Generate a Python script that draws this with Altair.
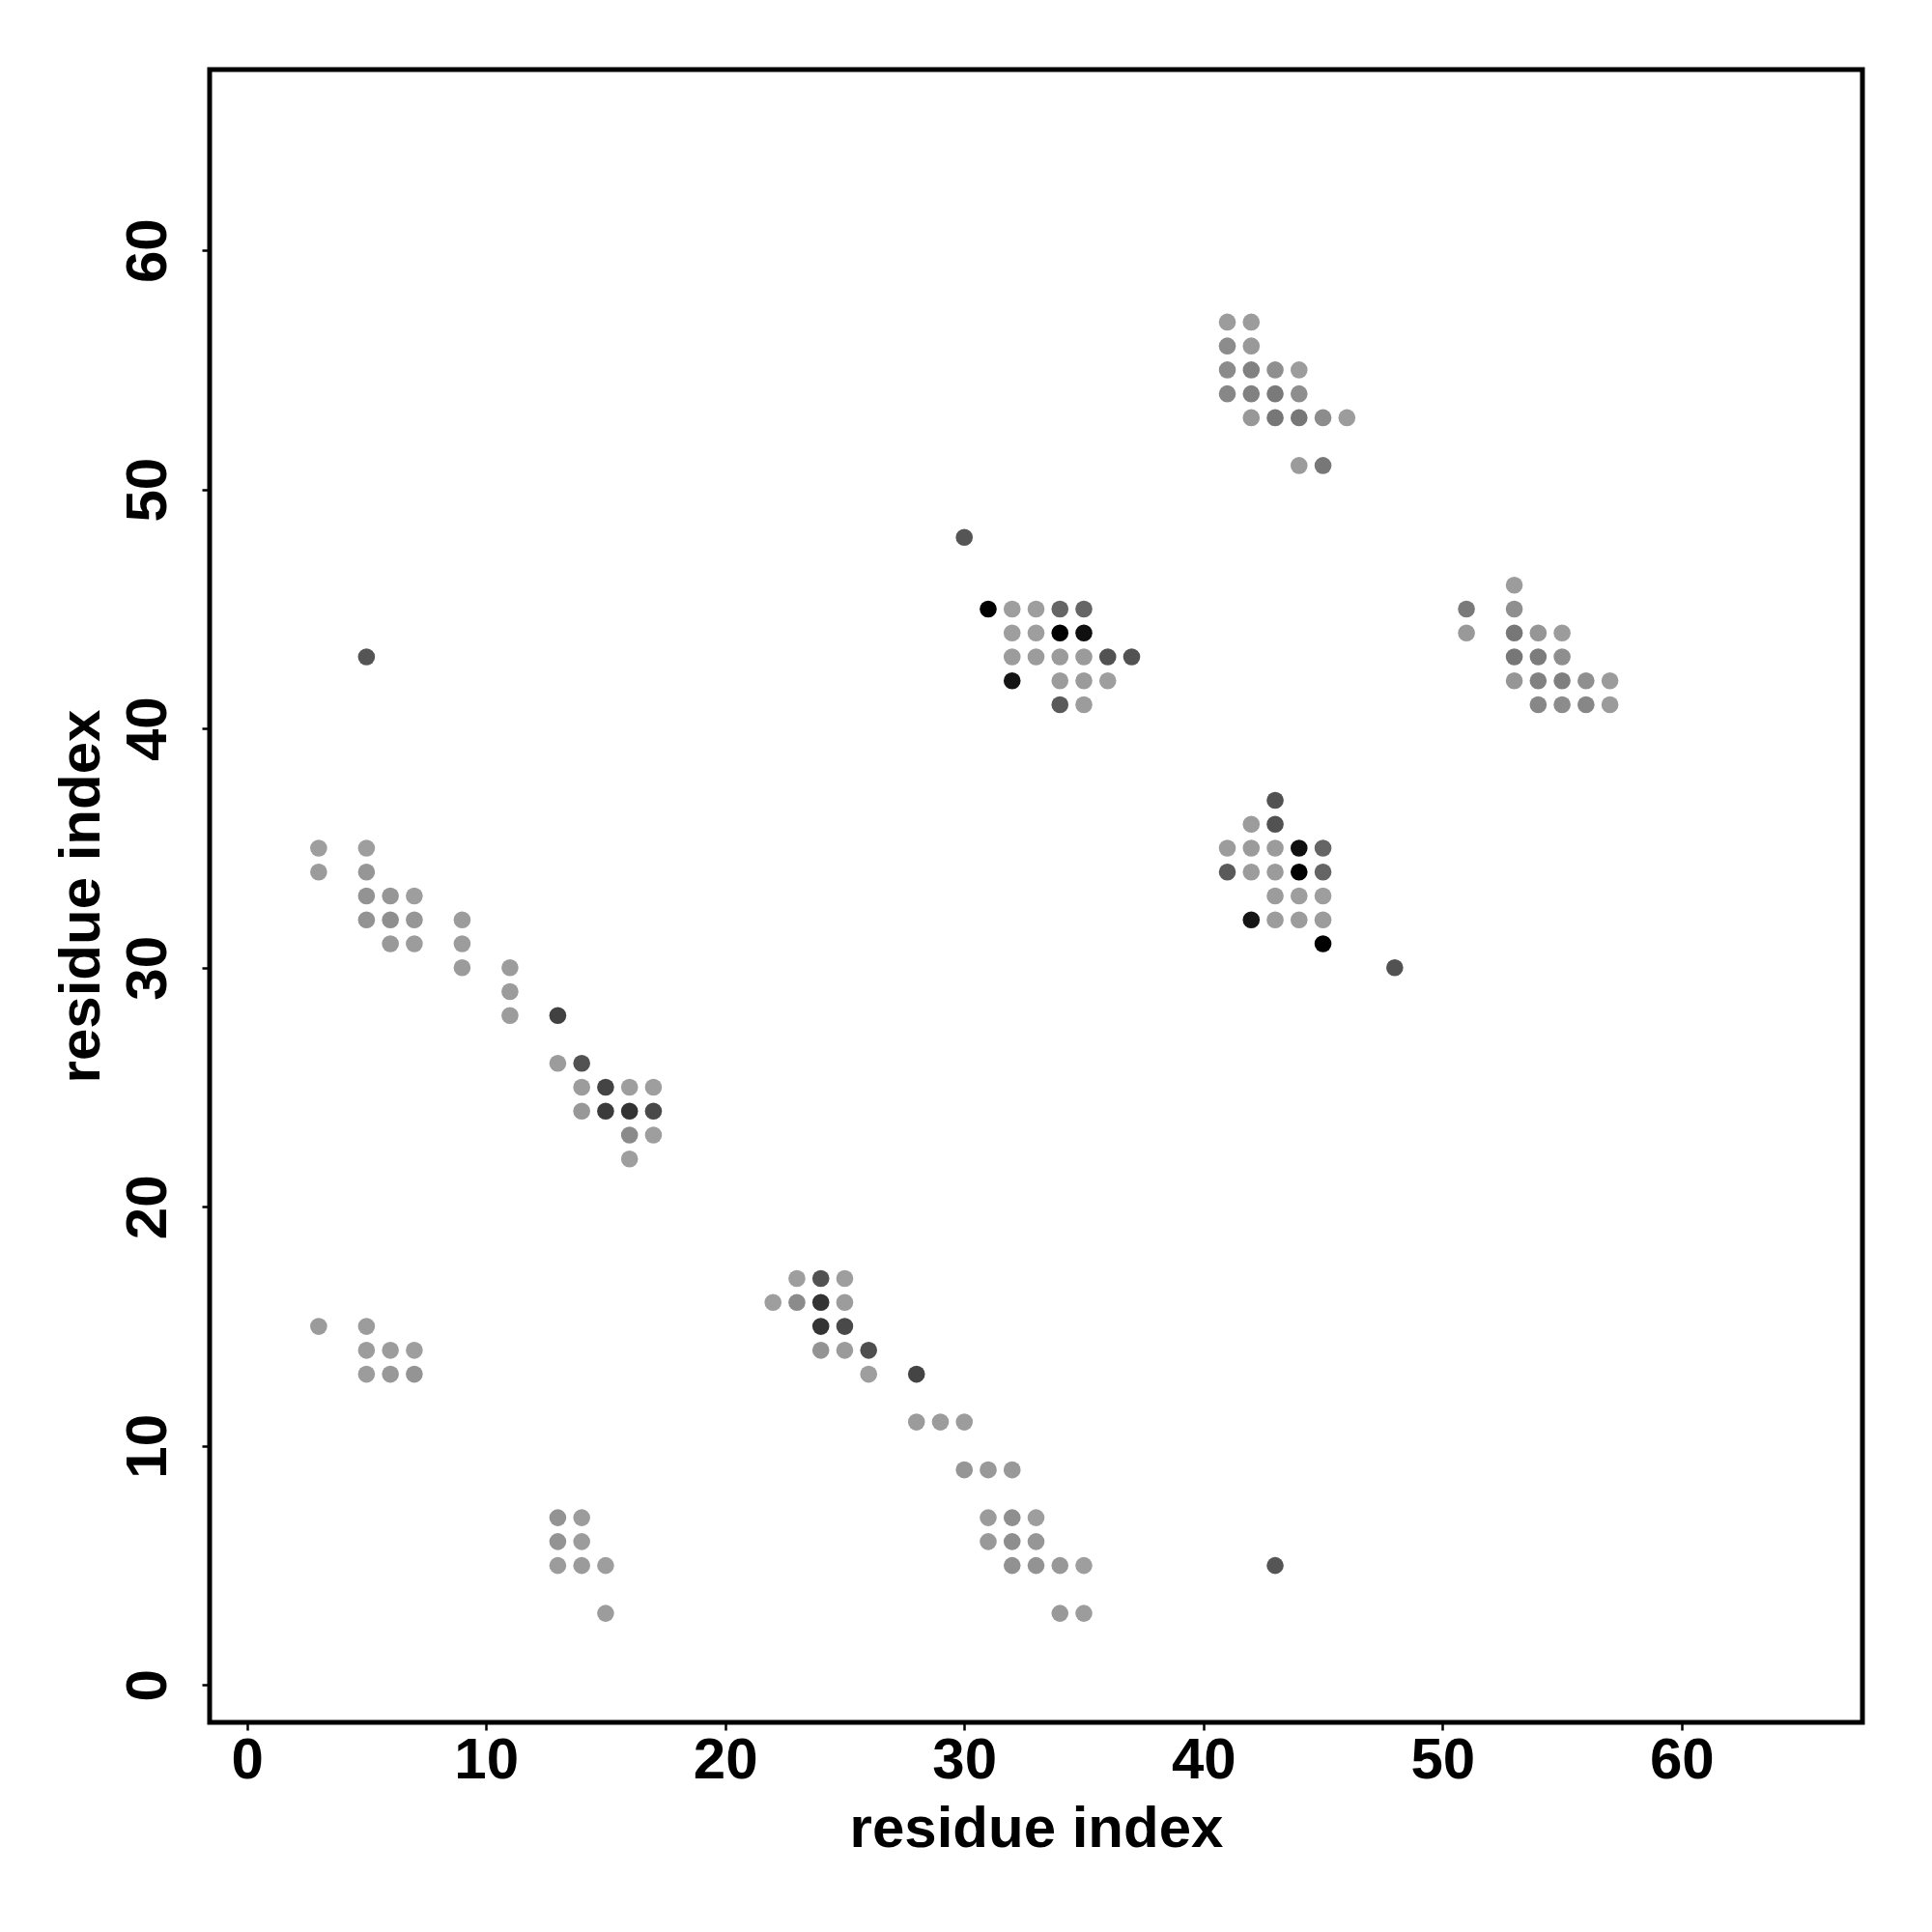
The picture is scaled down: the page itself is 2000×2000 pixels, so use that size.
import altair as alt
import pandas as pd

# residue i (x), residue j (y), contact strength (0 = weak/light, 1 = strong/black)
res_x = [
    3, 3, 5, 5, 5, 5, 6, 6, 6, 7, 7, 7, 9, 9, 9, 11, 11, 11, 13,
    13, 14, 14, 15, 16, 17, 14, 15, 16, 17, 16, 17, 16, 5,
    3, 5, 5, 6, 7, 5, 6, 7, 13, 14, 13, 14, 13, 14, 15, 15,
    23, 24, 25, 22, 23, 24, 25, 24, 25, 24, 25, 26, 26, 28,
    28, 29, 30, 30, 31, 32, 31, 32, 33, 31, 32, 33, 32, 33, 34, 35, 34, 35, 43,
    30, 31, 32, 33, 34, 35, 32, 33, 34, 35, 32, 33, 34, 35, 36, 37,
    32, 34, 35, 36, 34, 35,
    41, 42, 41, 42, 41, 42, 43, 44, 41, 42, 43, 44, 42, 43, 44, 45, 46, 44, 45,
    53, 51, 53, 51, 53, 54, 55, 53, 54, 55, 53, 54, 55, 56, 57, 54, 55, 56, 57,
    43, 42, 43, 41, 42, 43, 44, 45, 41, 42, 43, 44, 45, 43, 44, 45,
    42, 43, 44, 45, 45, 48,
]
res_y = [
    35, 34, 35, 34, 33, 32, 33, 32, 31, 33, 32, 31, 32, 31, 30, 30, 29, 28, 28,
    26, 26, 25, 25, 25, 25, 24, 24, 24, 24, 23, 23, 22, 43,
    15, 15, 14, 14, 14, 13, 13, 13, 7, 7, 6, 6, 5, 5, 5, 3,
    17, 17, 17, 16, 16, 16, 16, 15, 15, 14, 14, 14, 13, 13,
    11, 11, 11, 9, 9, 9, 7, 7, 7, 6, 6, 6, 5, 5, 5, 5, 3, 3, 5,
    48, 45, 45, 45, 45, 45, 44, 44, 44, 44, 43, 43, 43, 43, 43, 43,
    42, 42, 42, 42, 41, 41,
    57, 57, 56, 56, 55, 55, 55, 55, 54, 54, 54, 54, 53, 53, 53, 53, 53, 51, 51,
    46, 45, 45, 44, 44, 44, 44, 43, 43, 43, 42, 42, 42, 42, 42, 41, 41, 41, 41,
    37, 36, 36, 35, 35, 35, 35, 35, 34, 34, 34, 34, 34, 33, 33, 33,
    32, 32, 32, 32, 31, 30,
]
strength = [
    0.03, 0.05, 0.03, 0.08, 0.10, 0.10, 0.08, 0.12, 0.06, 0.03, 0.08, 0.04, 0.04, 0.04, 0.05, 0.04, 0.04, 0.04, 0.60,
    0.04, 0.50, 0.04, 0.58, 0.03, 0.03, 0.07, 0.64, 0.69, 0.55, 0.15, 0.03, 0.03, 0.48,
    0.05, 0.04, 0.04, 0.04, 0.03, 0.04, 0.07, 0.09, 0.10, 0.04, 0.10, 0.04, 0.04, 0.05, 0.03, 0.04,
    0.03, 0.50, 0.03, 0.03, 0.15, 0.69, 0.04, 0.68, 0.55, 0.10, 0.05, 0.52, 0.03, 0.58,
    0.05, 0.04, 0.04, 0.08, 0.06, 0.06, 0.05, 0.12, 0.03, 0.06, 0.13, 0.08, 0.11, 0.10, 0.07, 0.03, 0.06, 0.04, 0.48,
    0.48, 1.00, 0.03, 0.03, 0.38, 0.38, 0.03, 0.03, 1.00, 0.90, 0.04, 0.04, 0.05, 0.05, 0.50, 0.50,
    0.87, 0.04, 0.05, 0.03, 0.45, 0.04,
    0.04, 0.04, 0.14, 0.06, 0.15, 0.21, 0.12, 0.04, 0.17, 0.21, 0.25, 0.13, 0.07, 0.27, 0.27, 0.14, 0.04, 0.05, 0.27,
    0.04, 0.25, 0.12, 0.06, 0.27, 0.08, 0.04, 0.27, 0.24, 0.13, 0.08, 0.21, 0.22, 0.12, 0.05, 0.17, 0.14, 0.17, 0.05,
    0.50, 0.04, 0.50, 0.04, 0.05, 0.05, 0.90, 0.38, 0.45, 0.04, 0.05, 1.00, 0.38, 0.04, 0.03, 0.03,
    0.87, 0.04, 0.04, 0.04, 1.00, 0.50,
]
tick_values = [0, 10, 20, 30, 40, 50, 60]
axis_domain = [-1.56, 67.56]

df = pd.DataFrame({"x": res_x, "y": res_y, "s": strength})

FONT = "Liberation Sans"
FS = 60

x_axis = alt.Axis(
    values=tick_values, title="residue index", grid=False, domain=False,
    tickColor="black", tickWidth=2.5, tickSize=8,
    labelFont=FONT, labelFontSize=FS, labelFontWeight="bold", labelColor="black",
    labelPadding=2, labelBaseline="top",
    titleFont=FONT, titleFontSize=FS, titleFontWeight="bold", titleColor="black",
    titleBaseline="alphabetic", titleX=855.5, titleY=128, titleAlign="center",
)
y_axis = alt.Axis(
    values=tick_values, title="residue index", grid=False, domain=False,
    tickColor="black", tickWidth=2.5, tickSize=8,
    labelFont=FONT, labelFontSize=FS, labelFontWeight="bold", labelColor="black",
    labelAngle=270, labelAlign="center", labelBaseline="alphabetic", labelPadding=38,
    titleFont=FONT, titleFontSize=FS, titleFontWeight="bold", titleColor="black",
    titleAngle=270, titleAlign="center", titleBaseline="alphabetic",
    titleX=-115, titleY=855.5,
)

chart = alt.Chart(df).mark_circle(size=310, opacity=1, strokeWidth=0).encode(
    x=alt.X("x:Q", scale=alt.Scale(domain=axis_domain, nice=False, zero=False), axis=x_axis),
    y=alt.Y("y:Q", scale=alt.Scale(domain=axis_domain, nice=False, zero=False), axis=y_axis),
    color=alt.Color("s:Q", scale=alt.Scale(domain=[0, 1], range=["#a3a3a3", "#000000"], interpolate="rgb"), legend=None),
).properties(
    width=1711, height=1711,
    background="white",
    autosize=alt.AutoSizeParams(type="none"),
    padding={"left": 209, "top": 64, "right": 60, "bottom": 200},
).configure_view(
    stroke="black", strokeWidth=5, fill="white",
)

chart.save("out.html", embed_options={"renderer": "svg", "actions": False})
